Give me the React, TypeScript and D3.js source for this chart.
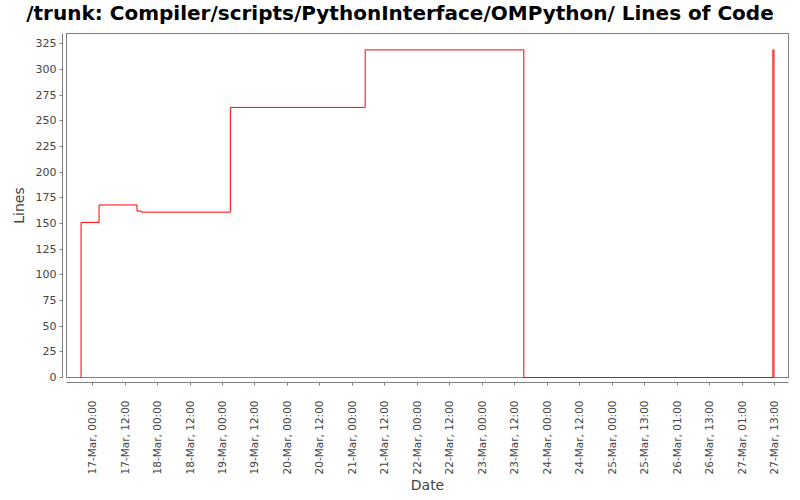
import * as d3 from 'd3';

// revisions: commit time (UTC) and line count after it
const revTimes = [
  '2012-03-16T18:56:00Z',
  '2012-03-16T18:56:00Z',
  '2012-03-17T01:35:00Z',
  '2012-03-17T15:36:00Z',
  '2012-03-17T17:18:00Z',
  '2012-03-19T02:06:00Z',
  '2012-03-21T03:54:00Z',
  '2012-03-23T14:30:00Z',
  '2012-03-27T10:30:00Z',
  '2012-03-27T10:54:00Z',
];
const revLines = [0, 151, 168, 162, 161, 263, 319, 0, 319, 0];

const yTicks = [0, 25, 50, 75, 100, 125, 150, 175, 200, 225, 250, 275, 300, 325];

const xTickTimes = [
  '2012-03-16T23:00:00Z', '2012-03-17T11:00:00Z', '2012-03-17T23:00:00Z',
  '2012-03-18T11:00:00Z', '2012-03-18T23:00:00Z', '2012-03-19T11:00:00Z',
  '2012-03-19T23:00:00Z', '2012-03-20T11:00:00Z', '2012-03-20T23:00:00Z',
  '2012-03-21T11:00:00Z', '2012-03-21T23:00:00Z', '2012-03-22T11:00:00Z',
  '2012-03-22T23:00:00Z', '2012-03-23T11:00:00Z', '2012-03-23T23:00:00Z',
  '2012-03-24T11:00:00Z', '2012-03-24T23:00:00Z', '2012-03-25T11:00:00Z',
  '2012-03-25T23:00:00Z', '2012-03-26T11:00:00Z', '2012-03-26T23:00:00Z',
  '2012-03-27T11:00:00Z',
];
const xTickLabels = [
  '17-Mar, 00:00', '17-Mar, 12:00', '18-Mar, 00:00', '18-Mar, 12:00',
  '19-Mar, 00:00', '19-Mar, 12:00', '20-Mar, 00:00', '20-Mar, 12:00',
  '21-Mar, 00:00', '21-Mar, 12:00', '22-Mar, 00:00', '22-Mar, 12:00',
  '23-Mar, 00:00', '23-Mar, 12:00', '24-Mar, 00:00', '24-Mar, 12:00',
  '25-Mar, 00:00', '25-Mar, 13:00', '26-Mar, 01:00', '26-Mar, 13:00',
  '27-Mar, 01:00', '27-Mar, 13:00',
];

const W = 800;
const H = 500;
const plot = { left: 66.5, right: 788.5, top: 33.5, bottom: 377.5 };
const font = 'DejaVu Sans, sans-serif';
const axisGrey = '#808080';
const textGrey = '#444444';

export default function App() {
  const data = revTimes.map((t, i) => ({ t: new Date(t), v: revLines[i] }));
  const ext = d3.extent(data, (d) => d.t.getTime()) as [number, number];
  const pad = (ext[1] - ext[0]) * 0.021;

  const x = d3
    .scaleUtc()
    .domain([new Date(ext[0] - pad), new Date(ext[1] + pad)])
    .range([plot.left, plot.right]);
  const y = d3
    .scaleLinear()
    .domain([0, (d3.max(revLines) as number) * 1.05])
    .range([plot.bottom, plot.top]);

  const line = d3
    .line<{ t: Date; v: number }>()
    .x((d) => x(d.t))
    .y((d) => y(d.v))
    .curve(d3.curveStepAfter);

  const yAxisX = 62.5;
  const xAxisY = 382.5;

  return (
    <div style={{ position: 'absolute', left: 0, top: 0 }}>
      <svg width={W} height={H} style={{ display: 'block', background: '#fff' }}>
        <text
          x={W / 2}
          y={20}
          textAnchor="middle"
          fontFamily={font}
          fontWeight="bold"
          fontSize={20}
          fill="#000"
        >
          /trunk: Compiler/scripts/PythonInterface/OMPython/ Lines of Code
        </text>

        <rect
          x={plot.left}
          y={plot.top}
          width={plot.right - plot.left}
          height={plot.bottom - plot.top}
          fill="#fff"
          stroke={axisGrey}
        />

        <path
          d={line(data) ?? ''}
          fill="none"
          stroke="#ff0000"
          strokeWidth={1}
        />

        {/* y axis */}
        <line x1={yAxisX} x2={yAxisX} y1={plot.top} y2={plot.bottom} stroke={axisGrey} />
        {yTicks.map((v) => (
          <g key={v} transform={`translate(0,${Math.round(y(v) - 0.5) + 0.5})`}>
            <line x1={yAxisX - 3} x2={yAxisX} stroke={axisGrey} />
            <text
              x={yAxisX - 6}
              dy="0.35em"
              textAnchor="end"
              fontFamily={font}
              fontSize={11}
              fill={textGrey}
            >
              {v}
            </text>
          </g>
        ))}
        <text
          transform={`translate(24,${(plot.top + plot.bottom) / 2}) rotate(-90)`}
          textAnchor="middle"
          fontFamily={font}
          fontSize={14}
          fill={textGrey}
        >
          Lines
        </text>

        {/* x axis */}
        <line x1={plot.left} x2={plot.right} y1={xAxisY} y2={xAxisY} stroke={axisGrey} />
        {xTickTimes.map((t, i) => {
          const px = Math.round(x(new Date(t))) + 0.5;
          return (
            <g key={t} transform={`translate(${px},0)`}>
              <line y1={xAxisY} y2={xAxisY + 3} stroke={axisGrey} />
              <text
                transform={`translate(0,${xAxisY + 18}) rotate(-90)`}
                dy="0.35em"
                textAnchor="end"
                fontFamily={font}
                fontSize={10.5}
                fill={textGrey}
              >
                {xTickLabels[i]}
              </text>
            </g>
          );
        })}
        <text
          x={(plot.left + plot.right) / 2}
          y={490}
          textAnchor="middle"
          fontFamily={font}
          fontSize={14}
          fill={textGrey}
        >
          Date
        </text>
      </svg>
    </div>
  );
}
